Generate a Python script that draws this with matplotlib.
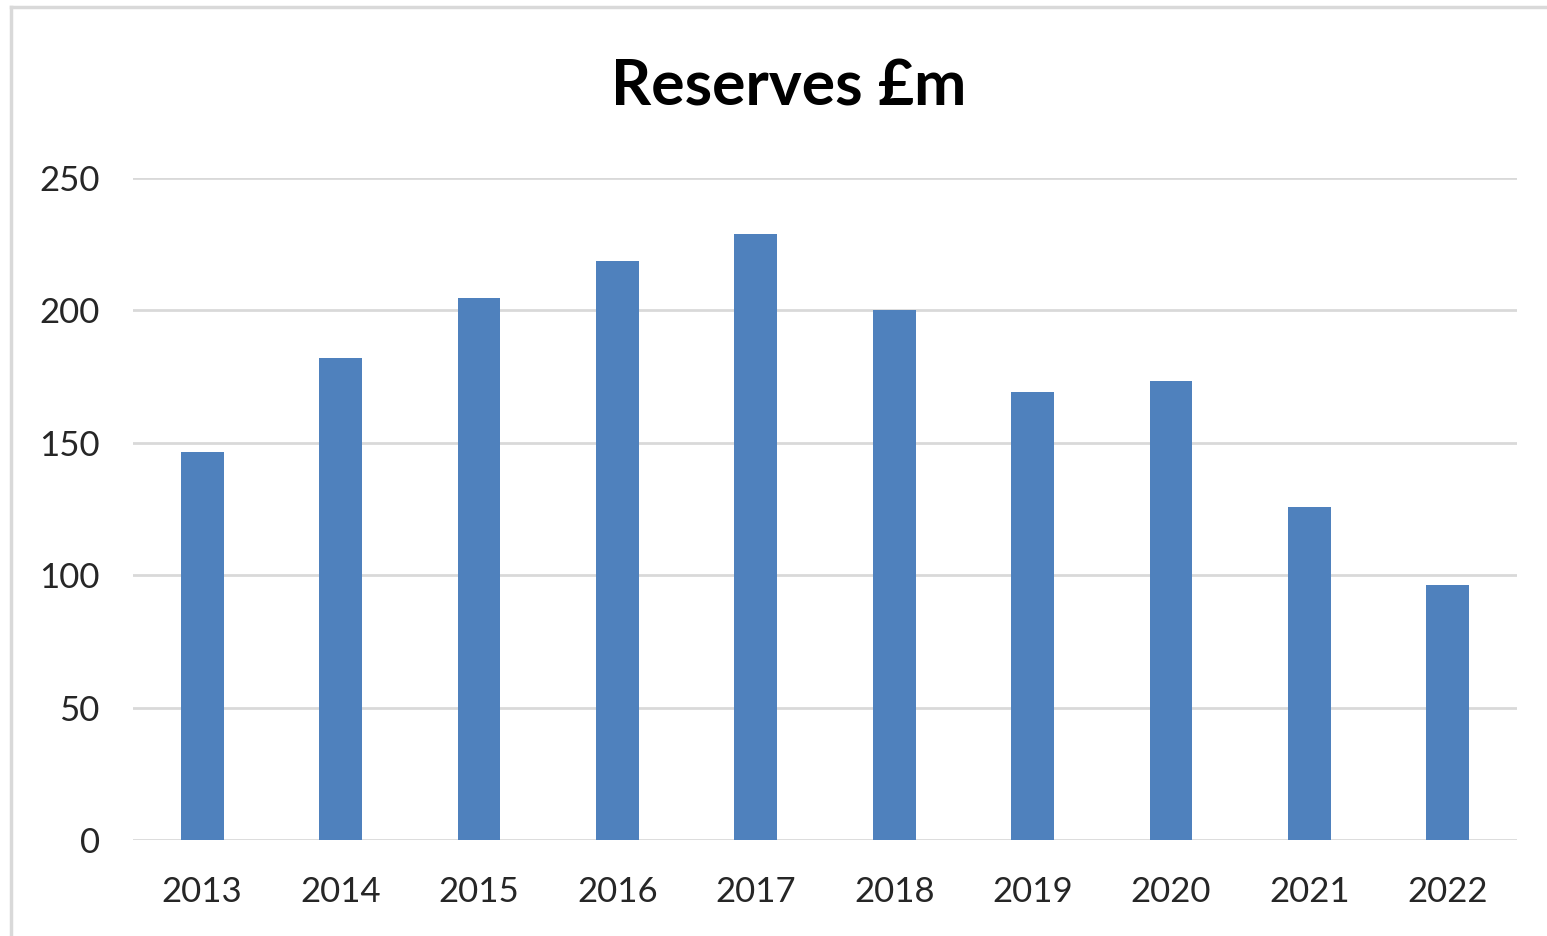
import numpy as np
import matplotlib.pyplot as plt
from matplotlib.lines import Line2D

years = ["2013", "2014", "2015", "2016", "2017", "2018", "2019", "2020", "2021", "2022"]
reserves = [146.6, 181.9, 204.6, 218.8, 228.9, 200.1, 169.3, 173.4, 125.9, 96.2]
yticks = [0, 50, 100, 150, 200, 250]

W, H = 1547, 936
fig = plt.figure(figsize=(W / 100, H / 100), dpi=100)
plt.rcParams["font.family"] = ["Lato", "DejaVu Sans"]

ax = fig.add_axes([133 / W, 1 - 840 / H, (1517 - 133) / W, (840 - 178) / H])

x = np.arange(len(years))
ax.bar(x, reserves, width=0.31, color="#4F81BD", zorder=3)

ax.set_xlim(-0.5, len(years) - 0.5)
ax.set_ylim(0, 250)
ax.set_yticks(yticks)
ax.set_xticks(x)
ax.set_xticklabels(years)
ax.grid(axis="y", color="#D9D9D9", linewidth=2, zorder=0)
for s in ax.spines.values():
    s.set_visible(False)
ax.tick_params(axis="both", length=0, labelsize=25, colors="#262626")
ax.tick_params(axis="y", pad=24)
ax.tick_params(axis="x", pad=26)

fig.text(789 / W, 1 - 87 / H, "Reserves £m", ha="center", va="center",
         fontsize=45, fontweight="bold", color="black")

# chart border (left and top edges visible)
fig.add_artist(Line2D([11 / W, 11 / W], [0, 1 - 7 / H], color="#D9D9D9", lw=2.5))
fig.add_artist(Line2D([11 / W, 1], [1 - 7 / H, 1 - 7 / H], color="#D9D9D9", lw=2.5))

fig.savefig("out.png", dpi=100, facecolor="white")
